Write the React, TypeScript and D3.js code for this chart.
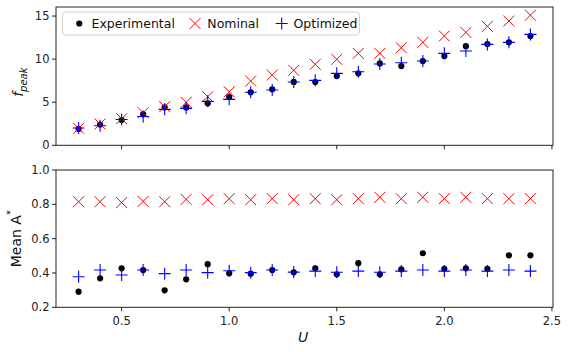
import React from "react";
import * as d3 from "d3";

// flow speed U
const uValues = [0.3, 0.4, 0.5, 0.6, 0.7, 0.8, 0.9, 1.0, 1.1, 1.2, 1.3, 1.4, 1.5, 1.6, 1.7, 1.8, 1.9, 2.0, 2.1, 2.2, 2.3, 2.4];

// peak frequency
const fpeakExperimental = [1.9, 2.4, 2.93, 3.6, 4.4, 4.4, 4.87, 5.6, 6.15, 6.5, 7.35, 7.34, 8.04, 8.35, 9.5, 9.2, 9.78, 10.36, 11.5, 11.75, 11.95, 12.68];
const fpeakNominal = [1.97, 2.47, 3.09, 3.78, 4.48, 4.99, 5.64, 6.22, 7.46, 8.16, 8.7, 9.4, 9.98, 10.67, 10.67, 11.32, 11.95, 12.68, 13.1, 13.8, 14.42, 15.1];
const fpeakOptimized = [2.0, 2.27, 3.0, 3.35, 4.17, 4.29, 5.1, 5.33, 6.15, 6.41, 7.34, 7.54, 8.35, 8.54, 9.43, 9.58, 9.78, 10.67, 10.94, 11.71, 11.95, 12.87];

// mean amplitude A*
const ampExperimental = [0.291, 0.369, 0.427, 0.417, 0.299, 0.363, 0.451, 0.398, 0.396, 0.417, 0.404, 0.427, 0.392, 0.457, 0.392, 0.421, 0.515, 0.424, 0.427, 0.424, 0.503, 0.503];
const ampNominal = [0.815, 0.815, 0.81, 0.817, 0.815, 0.829, 0.827, 0.833, 0.827, 0.833, 0.827, 0.833, 0.827, 0.833, 0.841, 0.833, 0.841, 0.833, 0.841, 0.833, 0.833, 0.833];
const ampOptimized = [0.378, 0.417, 0.388, 0.417, 0.396, 0.417, 0.402, 0.413, 0.402, 0.417, 0.405, 0.411, 0.404, 0.411, 0.404, 0.411, 0.417, 0.411, 0.417, 0.411, 0.417, 0.411];

const xTicks = [0.5, 1.0, 1.5, 2.0, 2.5];
const fpeakTicks = [0, 5, 10, 15];
const ampTicks = [0.2, 0.4, 0.6, 0.8, 1.0];

const W = 568;
const H = 352;
const left = 56;
const right = 553;
const top1 = 7;
const bottom1 = 145.3;
const top2 = 170;
const bottom2 = 307.3;
const font = "DejaVu Sans, sans-serif";
const tickFont = 11.5;

const Dot = ({ x, y }) => <circle cx={x} cy={y} r={3.1} fill="black" />;
const Cross = ({ x, y }) => (
  <path d={`M${x - 5.5},${y - 5.5}L${x + 5.5},${y + 5.5}M${x - 5.5},${y + 5.5}L${x + 5.5},${y - 5.5}`} stroke="red" strokeWidth={1} fill="none" />
);
const Plus = ({ x, y }) => (
  <path d={`M${x - 6},${y}L${x + 6},${y}M${x},${y - 6}L${x},${y + 6}`} stroke="blue" strokeWidth={1.1} fill="none" />
);

const Panel = ({ y, ticks, fmt, top, bottom, exp, nom, opt, x, showXLabels }) => (
  <g>
    {uValues.map((u, i) => (
      <Dot key={"e" + i} x={x(u)} y={y(exp[i])} />
    ))}
    {uValues.map((u, i) => (
      <Cross key={"n" + i} x={x(u)} y={y(nom[i])} />
    ))}
    {uValues.map((u, i) => (
      <Plus key={"o" + i} x={x(u)} y={y(opt[i])} />
    ))}
    <rect x={left} y={top} width={right - left} height={bottom - top} fill="none" stroke="#222" strokeWidth={1} />
    {ticks.map((t) => (
      <g key={t}>
        <line x1={left - 4} x2={left} y1={y(t)} y2={y(t)} stroke="#222" />
        <text x={left - 6.5} y={y(t)} dy="0.36em" textAnchor="end" fontSize={tickFont} fontFamily={font} fill="#222">
          {fmt(t)}
        </text>
      </g>
    ))}
    {xTicks.map((t) => (
      <g key={t}>
        <line x1={x(t)} x2={x(t)} y1={bottom} y2={bottom + 4} stroke="#222" />
        {showXLabels && (
          <text x={x(t)} y={bottom + 17.5} textAnchor="middle" fontSize={tickFont} fontFamily={font} fill="#222">
            {d3.format(".1f")(t)}
          </text>
        )}
      </g>
    ))}
  </g>
);

export default function App() {
  const x = d3.scaleLinear().domain([0.195, 2.505]).range([left, right]);
  const yTop = d3.scaleLinear().domain([0, 16.05]).range([bottom1, top1]);
  const yBot = d3.scaleLinear().domain([0.2, 1.0]).range([bottom2, top2]);

  const legendY = 23.5;
  return (
    <div style={{ position: "absolute", left: 0, top: 0 }}>
      <svg width={W} height={H} style={{ display: "block", background: "white" }}>
        <Panel y={yTop} ticks={fpeakTicks} fmt={d3.format("d")} top={top1} bottom={bottom1}
          exp={fpeakExperimental} nom={fpeakNominal} opt={fpeakOptimized} x={x} showXLabels={false} />
        <Panel y={yBot} ticks={ampTicks} fmt={d3.format(".1f")} top={top2} bottom={bottom2}
          exp={ampExperimental} nom={ampNominal} opt={ampOptimized} x={x} showXLabels={true} />

        {/* legend */}
        <rect x={62.5} y={12} width={297} height={23} rx={3} fill="white" fillOpacity={0.8} stroke="#d0d0d0" />
        <Dot x={79.3} y={legendY} />
        <text x={91.5} y={legendY} dy="0.36em" fontSize={12.5} fontFamily={font} fill="#111">Experimental</text>
        <Cross x={195} y={legendY} />
        <text x={207.3} y={legendY} dy="0.36em" fontSize={12.5} fontFamily={font} fill="#111">Nominal</text>
        <Plus x={281.7} y={legendY} />
        <text x={293.5} y={legendY} dy="0.36em" fontSize={12.5} fontFamily={font} fill="#111">Optimized</text>

        {/* axis labels */}
        <text x={303} y={342} textAnchor="middle" fontSize={14} fontStyle="italic" fontFamily={font} fill="#111">U</text>
        <text transform={`translate(23,${(top1 + bottom1) / 2 + 6}) rotate(-90)`} textAnchor="middle" fontSize={14} fontFamily={font} fill="#111">
          <tspan fontStyle="italic">f</tspan>
          <tspan fontStyle="italic" fontSize={10} dy="4">peak</tspan>
        </text>
        <text transform={`translate(21,${(top2 + bottom2) / 2}) rotate(-90)`} textAnchor="middle" fontSize={14} fontFamily={font} fill="#111">
          <tspan>Mean A</tspan>
          <tspan fontSize={10} dy="-7">*</tspan>
        </text>
      </svg>
    </div>
  );
}
